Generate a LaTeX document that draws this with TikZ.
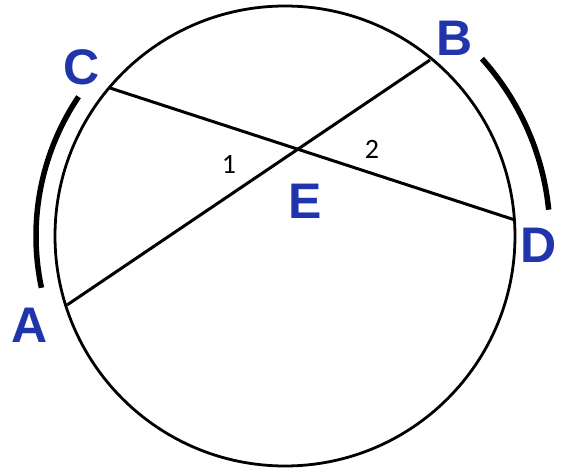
\documentclass[tikz,border=0pt]{standalone}
\usepackage{fontspec}
\setmainfont{Liberation Sans}
\newfontfamily\digitfont{Carlito}
\usetikzlibrary{calc}
\definecolor{ptblue}{RGB}{32,52,172}
\tikzset{
  ptlbl/.style={inner sep=0pt, text=ptblue, font=\fontsize{50}{50}\selectfont\bfseries},
  anglbl/.style={inner sep=0pt, text=black, font=\digitfont\fontsize{28}{28}\selectfont},
  rim/.style={line width=2.8pt, black},
  chord/.style={line width=3pt, black},
  bigarc/.style={line width=5.5pt, black}
}
\begin{document}
\begin{tikzpicture}[x=1pt,y=-1pt]
\useasboundingbox (0,0) rectangle (568,471);
\coordinate (O) at (285,236);
\draw[rim] (O) circle[radius=230];
\coordinate (C) at (110,88);
\coordinate (B) at (430,60);
\coordinate (D) at (515,220);
\coordinate (A) at (67,305);
\coordinate (E) at (intersection of C--D and A--B);
\draw[chord] (C) -- (D);
\draw[chord] (A) -- (B);
\draw[bigarc] ($(O)+(-146:249)$) arc[start angle=-146, end angle=-192, radius=249];
\draw[bigarc] ($(O)+(-42:265)$) arc[start angle=-42, end angle=-5.7, radius=265];
\node[ptlbl] (lC) at (82,67) {C};
\node[ptlbl] (lB) at (455,38) {B};
\node[ptlbl] (lD) at (539,245) {D};
\node[ptlbl] (lA) at (30,325) {A};
\node[ptlbl] (lE) at (305,201) {E};
\node[anglbl] (n1) at (229,164) {1};
\node[anglbl] (n2) at (372,149) {2};
\end{tikzpicture}
\end{document}
